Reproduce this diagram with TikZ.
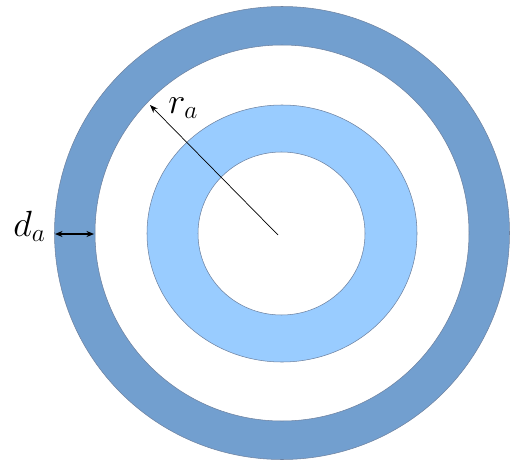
\documentclass[tikz,border=0pt]{standalone}
\usepackage{tikz}
\usetikzlibrary{arrows.meta}
\definecolor{ringdark}{RGB}{114, 159, 207}
\definecolor{ringlight}{RGB}{153, 204, 255}
\definecolor{ringedge}{RGB}{110, 130, 160}
\tikzset{
  ringband/.style = {
    draw=ringedge,
    line width=0.3pt,
    even odd rule
  },
  widtharrow/.style = {
    {Stealth[length=1.5mm, width=1.2mm]}-{Stealth[length=1.5mm, width=1.2mm]},
    line width=0.6pt
  },
  radiusarrow/.style = {
    -{Stealth[length=1.6mm, width=1.2mm]},
    line width=0.4pt
  },
  symlabel/.style = {
    font=\fontsize{22}{26}\selectfont,
    inner sep=0pt,
    anchor=base west
  }
}

\begin{document}
\begin{tikzpicture}[x=0.02cm, y=-0.02cm]
  \useasboundingbox (0,0) rectangle (520,466);

  % outer band
  \path[ringband, fill=ringdark] (282,233) ellipse [x radius=227.5, y radius=226.5]
    (282,233) ellipse [x radius=187, y radius=188];

  % inner band
  \path[ringband, fill=ringlight] (282,233.5) ellipse [x radius=135, y radius=128.5]
    (281.5,233.5) ellipse [x radius=83.5, y radius=81.5];

  % centre and measure points
  \coordinate (centre) at (278,235);
  \coordinate (rtip) at (150,105);
  \coordinate (dout) at (55,234);
  \coordinate (din) at (94,234);

  % labels
  \node[symlabel] (rlabel) at (168,113) {$r_a$};
  \node[symlabel] (dlabel) at (13,236) {$d_a$};

  % arrows
  \draw[radiusarrow] (centre) -- (rtip);
  \draw[widtharrow] (dout) -- (din);
\end{tikzpicture}
\end{document}
